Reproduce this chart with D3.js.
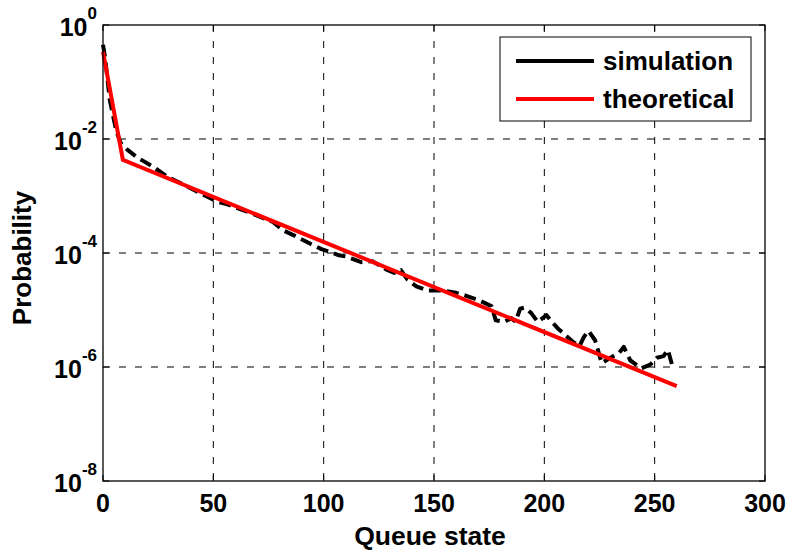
<!DOCTYPE html>
<html><head><meta charset="utf-8">
<script src="https://cdn.jsdelivr.net/npm/d3@7"></script>
<style>body{margin:0;background:#fff} text{font-family:"Liberation Sans",Arial,sans-serif;font-weight:bold;fill:#000}</style>
</head><body><svg id="c" width="789" height="551"></svg>
<script>
const simX = [0,1,3,6,8,11,15,23,29,37,44,52,56,66,77,82,87,94,99,107,110,117,122,129,132,135,138,142,147,154,160,164,170,176,178,182,185,187,189,191,194,197,201,203,206,209,213,216,218,220,223,226,230,234,236,239,244,248,251,254,256,258];
const simY = [4.5e-1,2.6e-1,5.0e-2,1.4e-2,8.5e-3,6.5e-3,4.9e-3,3.2e-3,2.2e-3,1.55e-3,1.12e-3,7.9e-4,7.2e-4,5.2e-4,3.5e-4,2.45e-4,2.0e-4,1.45e-4,1.17e-4,9.1e-5,8.7e-5,6.9e-5,7.2e-5,5.0e-5,4.5e-5,5.0e-5,3.4e-5,2.6e-5,2.2e-5,2.2e-5,2.0e-5,1.8e-5,1.5e-5,1.17e-5,6.6e-6,6.2e-6,7.2e-6,6.2e-6,1.05e-5,1.1e-5,8.9e-6,6.2e-6,8.1e-6,6.5e-6,4.8e-6,3.8e-6,2.75e-6,2.35e-6,3.4e-6,4.3e-6,2.95e-6,1.17e-6,1.45e-6,1.8e-6,2.25e-6,1.3e-6,9.5e-7,1.1e-6,1.45e-6,1.55e-6,2.0e-6,1.05e-6];
const theoX = [0, 9, 260];
const theoY = [0.34, 0.0043, 4.6e-7];
const xTicks = [0,50,100,150,200,250,300];
const yTickExps = [0,-2,-4,-6,-8];
const legendLabels = ["simulation","theoretical"];
const seriesColors = ["#000000","#ff0000"];
const xLabel = "Queue state", yLabel = "Probability";

const svg = d3.select("#c");
const L=103, R=765, T=25, B=481;
const x = d3.scaleLinear().domain([0,300]).range([L,R]);
const y = d3.scaleLog().domain([1e-8,1]).range([B,T]);
const yTicks = yTickExps.map(e => Math.pow(10,e));

// grid
const g = svg.append("g");
g.selectAll(".vg").data(xTicks.filter(d=>d>0&&d<300)).enter().append("line")
  .attr("x1",d=>x(d)).attr("x2",d=>x(d)).attr("y1",T).attr("y2",B)
  .attr("stroke","#000").attr("stroke-width",1).attr("stroke-dasharray","7,9");
g.selectAll(".hg").data(yTicks.filter(d=>d<1&&d>1e-8)).enter().append("line")
  .attr("y1",d=>y(d)).attr("y2",d=>y(d)).attr("x1",L).attr("x2",R)
  .attr("stroke","#000").attr("stroke-width",1).attr("stroke-dasharray","7,9");

// ticks inside on all sides
const tk=6;
xTicks.forEach(d=>{
  g.append("line").attr("x1",x(d)).attr("x2",x(d)).attr("y1",B).attr("y2",B-tk).attr("stroke","#000");
  g.append("line").attr("x1",x(d)).attr("x2",x(d)).attr("y1",T).attr("y2",T+tk).attr("stroke","#000");
});
yTicks.forEach(d=>{
  g.append("line").attr("y1",y(d)).attr("y2",y(d)).attr("x1",L).attr("x2",L+tk).attr("stroke","#000");
  g.append("line").attr("y1",y(d)).attr("y2",y(d)).attr("x1",R).attr("x2",R-tk).attr("stroke","#000");
});

// series
const sim = simX.map((d,i)=>[d,simY[i]]);
const theo = theoX.map((d,i)=>[d,theoY[i]]);
const line = d3.line().x(d=>x(d[0])).y(d=>y(d[1]));
svg.append("path").attr("d",line(sim)).attr("fill","none").attr("stroke",seriesColors[0])
  .attr("stroke-width",4).attr("stroke-dasharray","12,6").attr("stroke-linejoin","round");
svg.append("path").attr("d",line(theo)).attr("fill","none").attr("stroke",seriesColors[1])
  .attr("stroke-width",4).attr("stroke-linejoin","miter");

// frame
svg.append("rect").attr("x",L).attr("y",T).attr("width",R-L).attr("height",B-T)
  .attr("fill","none").attr("stroke","#000").attr("stroke-width",1.3);

// x tick labels
svg.selectAll(".xt").data(xTicks).enter().append("text")
  .attr("x",d=>x(d)).attr("y",512).attr("text-anchor","middle").attr("font-size",25).text(d=>d);
// y tick labels
yTickExps.forEach((e,i)=>{
  const t = svg.append("text").attr("x",97).attr("y",y(yTicks[i])+11).attr("text-anchor","end").attr("font-size",25);
  t.append("tspan").text("10");
  t.append("tspan").attr("dy",-17).attr("font-size",17).text(String(e));
});
// axis labels
svg.append("text").attr("x",430).attr("y",545).attr("text-anchor","middle").attr("font-size",26.5).text(xLabel);
svg.append("text").attr("transform","translate(31,258) rotate(-90)").attr("text-anchor","middle").attr("font-size",26).text(yLabel);

// legend
const lg = svg.append("g");
lg.append("rect").attr("x",500).attr("y",37).attr("width",251).attr("height",84).attr("fill","#fff").attr("stroke","#000").attr("stroke-width",1);
legendLabels.forEach((s,i)=>{
  const yy = 61 + i*38;
  lg.append("line").attr("x1",516).attr("x2",594).attr("y1",yy).attr("y2",yy).attr("stroke",seriesColors[i]).attr("stroke-width",4);
  lg.append("text").attr("x",603).attr("y",yy+9).attr("font-size",26).text(s);
});
</script></body></html>
